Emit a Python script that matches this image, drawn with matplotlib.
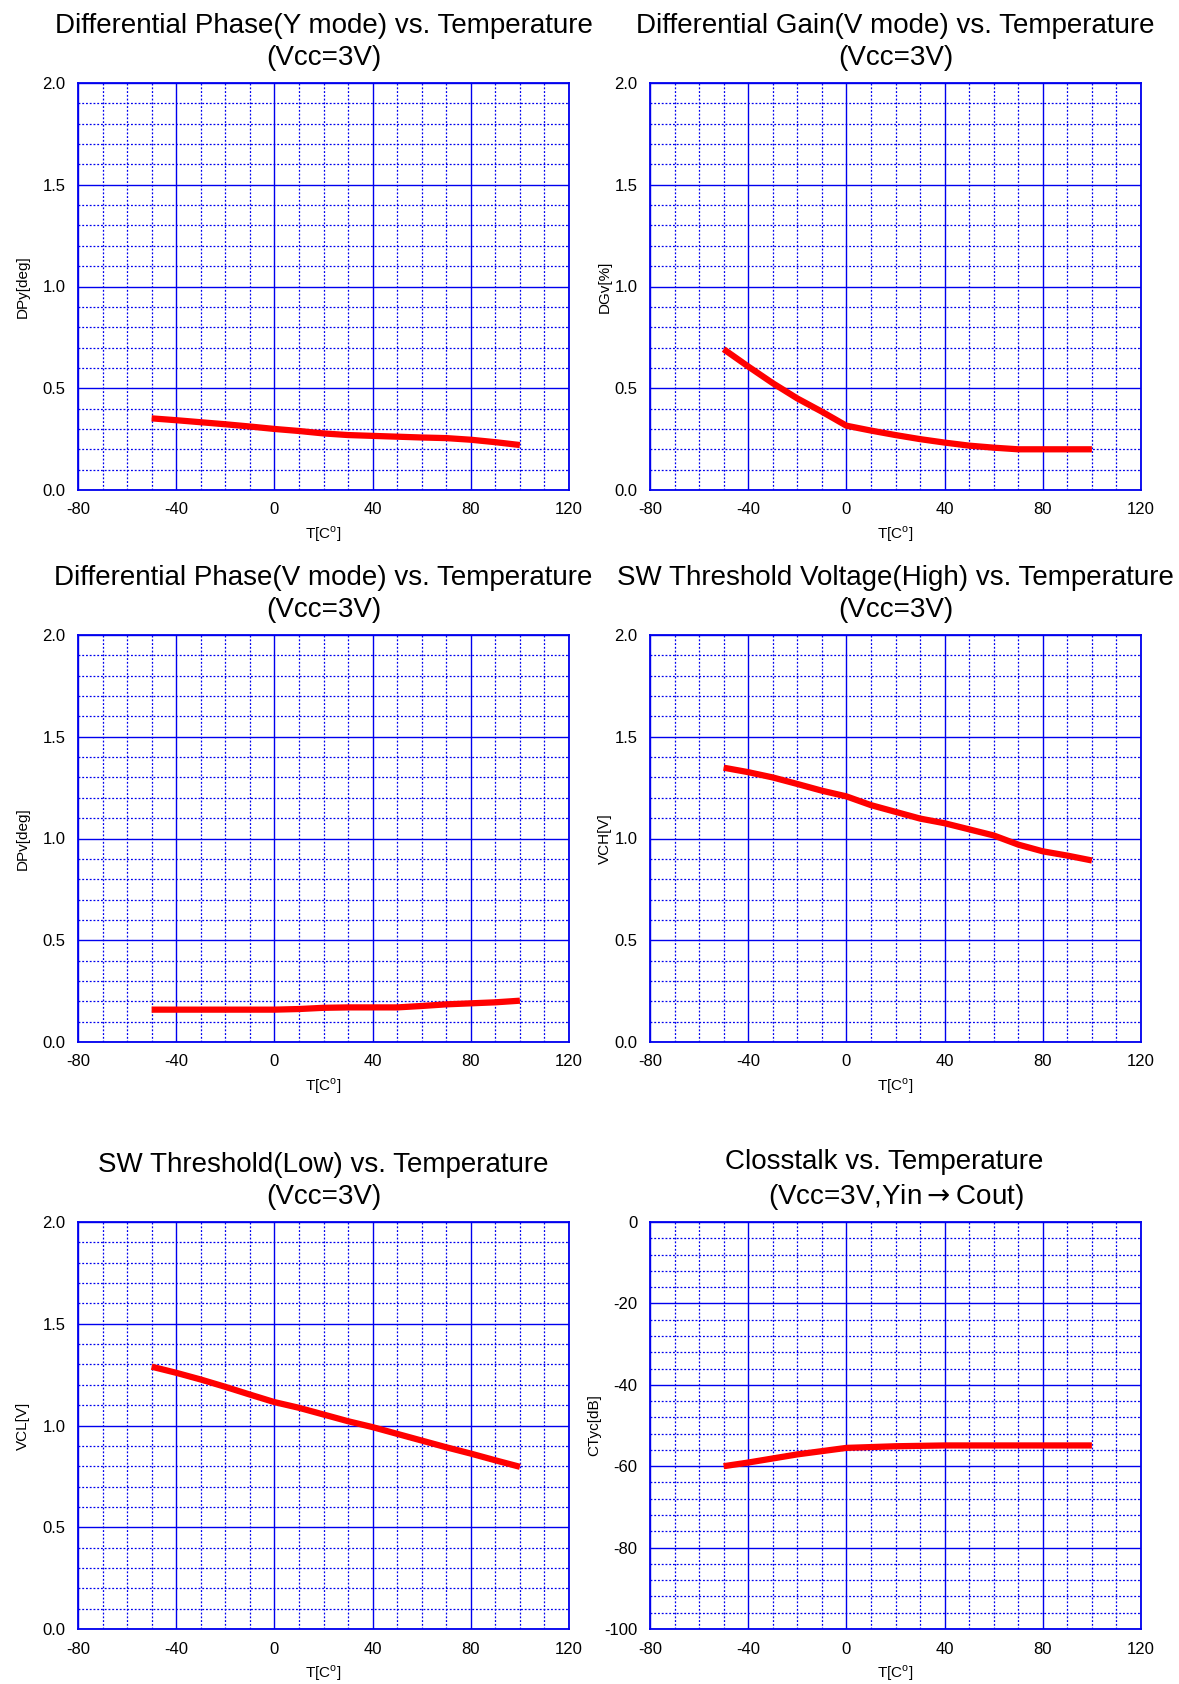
import matplotlib
matplotlib.use("Agg")
import matplotlib.pyplot as plt
from matplotlib.ticker import MultipleLocator

plt.rcParams['font.family'] = ['Liberation Sans', 'DejaVu Sans']
plt.rcParams['axes.unicode_minus'] = False

# temperature points (deg C)
temp = [-50, -40, -30, -20, -10, 0, 10, 20, 30, 40, 50, 60, 70, 80, 90, 100]

dpy = [0.352, 0.343, 0.333, 0.323, 0.312, 0.300, 0.290, 0.278, 0.270, 0.266, 0.262, 0.258, 0.255, 0.247, 0.235, 0.221]
dgv = [0.692, 0.607, 0.525, 0.450, 0.385, 0.316, 0.292, 0.270, 0.250, 0.233, 0.218, 0.208, 0.200, 0.200, 0.200, 0.200]
dpv = [0.159, 0.159, 0.159, 0.159, 0.159, 0.159, 0.162, 0.168, 0.170, 0.170, 0.170, 0.177, 0.185, 0.190, 0.195, 0.203]
vch = [1.348, 1.326, 1.300, 1.268, 1.235, 1.207, 1.164, 1.131, 1.098, 1.075, 1.045, 1.015, 0.970, 0.937, 0.916, 0.892]
vcl = [1.289, 1.259, 1.226, 1.190, 1.152, 1.115, 1.087, 1.054, 1.021, 0.992, 0.959, 0.926, 0.893, 0.862, 0.829, 0.797]
ctyc = [-60.0, -59.1, -58.1, -57.1, -56.3, -55.5, -55.3, -55.1, -55.0, -54.9, -54.9, -54.9, -54.9, -54.9, -54.9, -54.9]

titles = [
    "Differential Phase(Y mode) vs. Temperature\n(Vcc=3V)",
    "Differential Gain(V mode) vs. Temperature\n(Vcc=3V)",
    "Differential Phase(V mode) vs. Temperature\n(Vcc=3V)",
    "SW Threshold Voltage(High) vs. Temperature\n(Vcc=3V)",
    "SW Threshold(Low) vs. Temperature\n(Vcc=3V)",
    "Closstalk vs. Temperature   \n(Vcc=3V,Yin$\\rightarrow$Cout)",
]
ylabels = ["DPy[deg]", "DGv[%]", "DPv[deg]", "VCH[V]", "VCL[V]", "CTyc[dB]"]
series = [dpy, dgv, dpv, vch, vcl, ctyc]

W, H = 1179, 1684
fig = plt.figure(figsize=(W / 100, H / 100), dpi=100)

lefts = [78, 650]
tops = [83, 635, 1222]
aw, ah = 491, 407

blue = '#0000ee'
for i in range(6):
    r, c = divmod(i, 2)
    ax = fig.add_axes([lefts[c] / W, 1 - (tops[r] + ah) / H, aw / W, ah / H])
    ax.plot(temp, series[i], color='red', lw=4.5, solid_capstyle='butt', zorder=5)
    ax.set_xlim(-80, 120)
    ax.xaxis.set_major_locator(MultipleLocator(40))
    ax.xaxis.set_minor_locator(MultipleLocator(10))
    if i == 5:
        ax.set_ylim(-100, 0)
        ax.yaxis.set_major_locator(MultipleLocator(20))
        ax.yaxis.set_minor_locator(MultipleLocator(4))
    else:
        ax.set_ylim(0, 2.0)
        ax.yaxis.set_major_locator(MultipleLocator(0.5))
        ax.yaxis.set_minor_locator(MultipleLocator(0.1))
        ax.yaxis.set_major_formatter(lambda v, p: f"{v:.1f}")
    ax.grid(which='major', color=blue, lw=1.0, ls='-')
    ax.grid(which='minor', color=blue, lw=0.9, ls=(0, (1.5, 1.5)))
    for s in ax.spines.values():
        s.set_color(blue)
        s.set_linewidth(1.3)
    ax.tick_params(which='both', length=0, labelsize=12)
    ax.tick_params(axis='y', pad=9)
    ax.tick_params(axis='x', pad=9)
    ax.set_xlabel('T[C$^\\mathregular{o}$]', fontsize=11, labelpad=5)
    ax.set_ylabel(ylabels[i], fontsize=11, labelpad=9 if c == 0 else 2)
    ax.set_title(titles[i], fontsize=20, pad=13, linespacing=1.3)

fig.savefig("out.png", dpi=100)
